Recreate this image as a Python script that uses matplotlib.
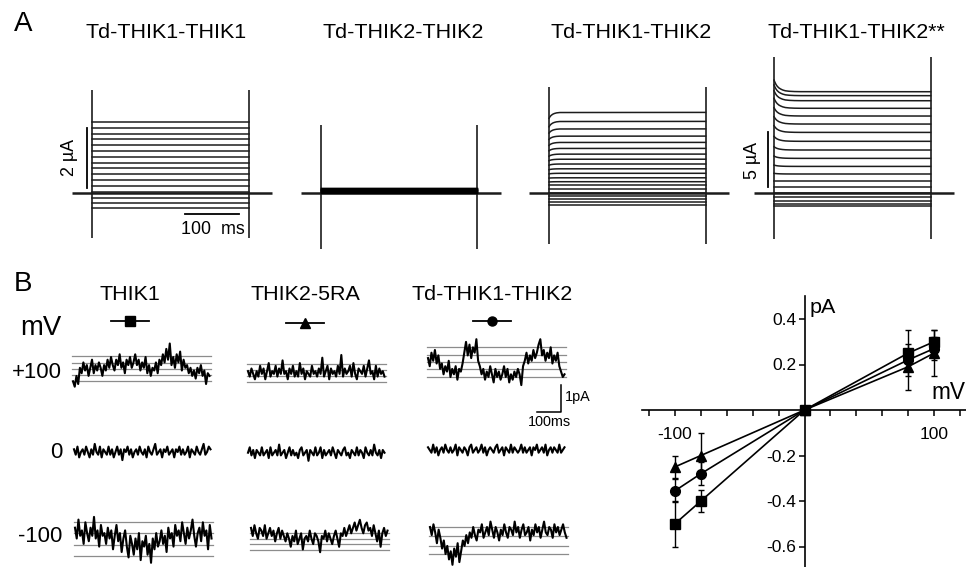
import matplotlib
matplotlib.use('Agg')
import matplotlib.pyplot as plt
import numpy as np
from matplotlib import font_manager
from matplotlib.lines import Line2D

names = {f.name for f in font_manager.fontManager.ttflist}
NARROW = 'Liberation Sans Narrow' if 'Liberation Sans Narrow' in names else 'Liberation Sans'
HAVE_NARROW = NARROW == 'Liberation Sans Narrow'
plt.rcParams['font.family'] = [NARROW, 'DejaVu Sans']
plt.rcParams['axes.unicode_minus'] = False


def fs(size):
    # regular-width fallback needs a smaller size to keep the same text widths
    return size if HAVE_NARROW else size * 0.86


# ---------------- data: panel A (two-electrode voltage clamp families, µA) ----------------
A_titles = ['Td-THIK1-THIK1', 'Td-THIK2-THIK2', 'Td-THIK1-THIK2', 'Td-THIK1-THIK2**']
pulse_on, pulse_off = 0, 290          # ms
hold_span = [-37, 333]                 # ms, holding trace shown
A1_levels = [2.36, 2.17, 1.97, 1.78, 1.59, 1.39, 1.20, 1.00, 0.81, 0.61, 0.42, 0.22,
             0.03, -0.17, -0.33, -0.52]
A2_levels = [0.15, 0.14, 0.13, 0.12, 0.11, 0.10, 0.09, 0.08, 0.07, 0.06, 0.05,
             0.04, 0.03, 0.02, 0.01, -0.01]
A3_steady = [2.67, 2.37, 2.12, 1.88, 1.67, 1.47, 1.28, 1.11, 0.95, 0.79, 0.64, 0.49,
             0.36, 0.24, 0.13, 0.0, -0.11, -0.22, -0.32, -0.43]
A3_initial = [2.47, 2.19, 1.98, 1.77, 1.57, 1.39, 1.21, 1.06, 0.91, 0.76, 0.62, 0.48,
              0.35, 0.24, 0.13, 0.0, -0.11, -0.22, -0.32, -0.43]
A3_time = [0, 2, 4, 7, 10, 14, 20, 290]
A3_frac = [1, 0.7, 0.5, 0.3, 0.18, 0.08, 0.02, 0]
A4_steady = [9.18, 8.82, 8.36, 7.67, 6.97, 6.24, 5.48, 4.67, 3.88, 3.12, 2.39, 1.70,
             1.06, 0.52, 0.0, -0.36, -0.73, -1.0, -1.21]
A4_initial = [10.24, 9.79, 9.27, 8.58, 7.73, 6.91, 6.09, 5.12, 4.18, 3.33, 2.51, 1.76,
              1.06, 0.52, 0.0, -0.36, -0.73, -1.0, -1.21]
A4_time = [0, 2, 4, 6, 9, 12, 16, 21, 28, 38, 50, 290]
A4_frac = [1, 0.78, 0.6, 0.47, 0.33, 0.24, 0.15, 0.08, 0.04, 0.015, 0.005, 0]
A_spike_hi = [3.42, 2.26, 3.51, 12.3]
A_spike_lo = [-1.51, -1.89, -1.72, -4.24]

# ---------------- data: panel B (single-channel traces, values in 0.1 pA) ----------------
B_cols = ['THIK1', 'THIK2-5RA', 'Td-THIK1-THIK2']
B_markers = ['s', '^', 'o']
B_rows = ['+100', '0', '-100']
B_dt = 7.2   # ms per sample

THIK1_p100 = [0, -2, 2, -1, 5, 3, 7, 4, 6, 2, 5, 8, 3, 6, 4, 7, 5, 2, 6, 4,
              8, 5, 9, 6, 4, 8, 6, 10, 5, 7, 3, 8, 6, 9, 5, 7, 10, 6, 8, 4,
              7, 5, 9, 3, 6, 2, 5, 4, 7, 3, 8, 6, 10, 7, 12, 8, 14, 6, 9, 5,
              10, 7, 11, 4, 8, 5, 6, 3, 5, 2, 4, 1, 5, 3, 6, 2, 4, -1, 3, 2]
THIK2_p100 = [4, 2, 5, 3, 1, 4, 2, 6, 3, 5, 1, 4, 7, 2, 4, 3, 6, 2, 5, 3,
              8, 3, 4, 1, 5, 3, 6, 2, 4, 2, 7, 3, 5, 1, 4, 3, 2, 6, 3, 4,
              2, 5, 3, 9, 2, 4, 6, 1, 5, 3, 4, 2, 6, 3, 10, 2, 5, 3, 4, 6,
              2, 7, 3, 1, 5, 4, 3, 6, 2, 5, 8, 3, 4, 1, 6, 2, 5, 3, 4, 2]
TD_p100 = [7, 4, 9, 6, 10, 5, 8, 3, 5, 1, 4, 2, 6, 0, 3, 1, 4, -1, 3, 2,
           5, 9, 13, 8, 12, 7, 11, 9, 14, 6, 4, 1, 3, -1, 2, 0, 4, 1, -2, 3,
           0, 2, -1, 1, 4, 0, 3, -2, 1, -1, 2, 0, 3, 1, -3, 4, 6, 9, 5, 8,
           6, 10, 7, 9, 12, 14, 8, 10, 6, 9, 7, 11, 5, 8, 6, 9, 4, 2, 0, 1]
THIK1_0 = [1, -1, 2, -2, 0, 1, -1, 2, 0, -2, 1, -1, 3, 0, -1, 2, -2, 1, 0, -1,
           2, -1, 1, -2, 0, 2, -1, 1, -3, 1, 0, 2, -1, 1, -2, 0, 1, -1, 2, 0,
           -1, 1, -2, 2, 0, -1, 1, 3, -1, 0, 1, -2, 1, 0, 2, -1, 0, 1, -2, 1,
           0, 2, -1, 1, -1, 0, 2, -2, 1, 0, -1, 2, 0, -1, 1, 3, -1, 0, 2, 1]
THIK2_0 = [0, 2, -1, 1, -2, 1, 0, -1, 2, -1, 0, 1, -2, 2, -1, 0, 1, -1, 3, -1,
           0, 1, -2, 0, 2, -1, 1, -1, 0, -2, 1, 2, -1, 0, 1, -3, 1, 0, -1, 2,
           -1, 0, 2, -2, 1, -1, 0, 1, -1, 2, 0, -2, 1, 0, -1, 1, 2, -1, 0, -2,
           1, 0, -1, 2, -1, 1, 0, -2, 2, 0, -1, 1, -1, 3, 0, -1, 1, -2, 1, 0]
TD_0 = [1, 0, -1, 2, -1, 1, -2, 0, 1, -1, 2, 0, -1, 1, -1, 0, 2, -2, 1, 0,
        -1, 1, 0, -2, 1, 2, -1, 0, 1, -1, 0, 2, -1, 1, -2, 0, 1, 0, -1, 1,
        2, -1, 0, 1, -2, 1, 0, -1, 2, -1, 1, 0, -1, 0, 2, -1, 1, -1, 0, 1,
        -2, 1, 0, 2, -1, 0, 1, -1, 2, -2, 0, 1, -1, 1, 0, -1, 2, -1, 0, 1]
THIK1_m100 = [-2, -6, 1, -5, -3, -8, 0, -4, -7, -2, -5, 2, -6, -3, -9, -1, -5, -4, -8, -2,
              -6, -3, -10, -5, -1, -7, -4, -11, -6, -3, -9, -13, -5, -8, -12, -6, -10, -4, -14, -7,
              -9, -5, -12, -8, -15, -6, -10, -4, -9, -7, -3, -8, -5, -11, -2, -6, -4, -9, -1, -5,
              -3, -7, 0, -4, -8, -2, -6, -3, 1, -5, -9, -4, -2, -7, 0, -5, -3, -10, -1, -6]
THIK2_m100 = [2, -1, 3, 0, -2, 2, 1, -1, 3, -2, 0, 2, -1, 1, -3, 0, 2, -2, 1, -1,
              -3, 0, -2, -5, -1, -3, 1, -4, -2, 0, -6, -2, -1, -3, 1, -2, -4, 0, -1, -3,
              -7, -1, -2, 1, -3, 0, -2, -4, -1, 1, -2, -5, 0, -1, 2, -1, 1, 3, 0, 2,
              4, 1, 3, 5, 2, 0, 3, 4, 1, 2, -1, 3, 0, -3, 1, -5, 0, 2, -1, 1]
TD_m100 = [0, -3, 1, -2, -6, -1, -4, -8, -5, -10, -7, -12, -9, -14, -8, -11, -6, -13, -9, -5,
           -7, -3, -6, -2, -4, 0, -3, -5, -1, -2, 1, -4, -2, 0, -3, 2, -1, -4, 0, -2,
           -5, -1, -3, 1, -2, -4, 0, -1, -3, 2, -2, 0, -4, -1, 1, -3, -2, 0, -5, -1,
           -3, 1, -2, 0, -4, -1, 2, -2, -3, 0, -1, -4, 1, -2, 0, -3, -1, 1, -2, -4]
B_traces = [[THIK1_p100, THIK2_p100, TD_p100],
            [THIK1_0, THIK2_0, TD_0],
            [THIK1_m100, THIK2_m100, TD_m100]]
# open-level guide lines (pA)
B_levels = [[[0, 0.23, 0.44, 0.69, 0.95], [0, 0.22, 0.44, 0.67], [0, 0.28, 0.56, 0.83, 1.1]],
            [[], [], []],
            [[0, -0.41, -0.84, -1.25], [0, -0.2, -0.4, -0.6], [0, -0.35, -0.7, -1.0]]]

# ---------------- data: I-V plot ----------------
iv_v = [-100, -80, 0, 80, 100]
iv_thik1 = [-0.50, -0.40, 0.0, 0.25, 0.30]
iv_thik1_err = [0.10, 0.05, 0.0, 0.10, 0.05]
iv_thik2 = [-0.25, -0.20, 0.0, 0.19, 0.25]
iv_thik2_err = [0.05, 0.10, 0.0, 0.10, 0.10]
iv_td = [-0.355, -0.28, 0.0, 0.22, 0.27]
iv_td_err = [0.05, 0.05, 0.0, 0.05, 0.05]

# ---------------- layout helpers ----------------
W, H = 966, 567
fig = plt.figure(figsize=(W / 100, H / 100), dpi=100)


def px_axes(left, top, right, bottom, x0, xs, y0, ys):
    ax = fig.add_axes([left / W, 1 - bottom / H, (right - left) / W, (bottom - top) / H])
    ax.set_xlim((left - x0) / xs, (right - x0) / xs)
    ax.set_ylim((y0 - bottom) / ys, (y0 - top) / ys)
    ax.axis('off')
    return ax


def ftext(x, y, s, **kw):
    fig.text(x / W, 1 - y / H, s, **kw)


TR = '#1c1c1c'

# ---------------- panel A ----------------
ftext(23, 24, 'A', fontsize=20, family='Liberation Sans', ha='center', va='center')
A_title_x = [166, 403, 631, 856]
for x, t in zip(A_title_x, A_titles):
    ftext(x, 33, t, fontsize=fs(18), ha='center', va='center')

A_geom = [  # (left, right, x0 px, y0 px, px per µA)
    (50, 290, 92, 192.7, 30),
    (292, 510, 320.7, 192.5, 30),
    (520, 740, 549, 192.5, 30),
    (745, 962, 774, 192.7, 11),
]
axA = []
for i, (l, r, x0, y0, ys) in enumerate(A_geom):
    ax = px_axes(l, 45, r, 258, x0, 0.54, y0, ys)
    axA.append(ax)
    ax.plot(hold_span, [0, 0], color=TR, lw=1.8, solid_capstyle='butt')
    ax.vlines([pulse_on, pulse_off], A_spike_lo[i], A_spike_hi[i], color=TR, lw=1.2)

for lv in A1_levels:
    axA[0].plot([pulse_on, pulse_off], [lv, lv], color=TR, lw=1.1)
for lv in A2_levels:
    axA[1].plot([pulse_on, pulse_off], [lv, lv], color='black', lw=1.0)
for s0, s1 in zip(A3_initial, A3_steady):
    vals = [s1 + (s0 - s1) * f for f in A3_frac]
    axA[2].plot(A3_time, vals, color=TR, lw=1.1)
for s0, s1 in zip(A4_initial, A4_steady):
    vals = [s1 + (s0 - s1) * f for f in A4_frac]
    axA[3].plot(A4_time, vals, color=TR, lw=1.1)

# scale bars A
axA[0].plot([-9.3, -9.3], [0.16, 2.16], color='black', lw=1.3, clip_on=False)
axA[0].text(-41, 1.16, '2 µA', rotation=90, fontsize=fs(15), ha='center', va='center')
axA[0].plot([172, 272], [-0.71, -0.71], color='black', lw=1.3)
axA[0].text(224, -1.24, '100  ms', fontsize=fs(15), ha='center', va='center')
axA[3].plot([-11, -11], [0.5, 5.5], color='black', lw=1.3)
axA[3].text(-39, 2.97, '5 µA', rotation=90, fontsize=fs(15), ha='center', va='center')

# ---------------- panel B ----------------
ftext(23, 284, 'B', fontsize=20, family='Liberation Sans', ha='center', va='center')
B_title_x = [130, 305, 492]
B_key_y = [321, 323, 321]
for x, ky, t, m in zip(B_title_x, B_key_y, B_cols, B_markers):
    ftext(x, 295, t, fontsize=fs(18), ha='center', va='center')
    fig.add_artist(Line2D([(x - 19) / W, (x + 19) / W], [1 - ky / H] * 2,
                          transform=fig.transFigure, color='black', lw=1.3))
    fig.add_artist(Line2D([x / W], [1 - ky / H], transform=fig.transFigure,
                          marker=m, ms=7.5 if m == '^' else 6.5, color='black', lw=0))

ftext(41, 328, 'mV', fontsize=fs(23), ha='center', va='center')
B_row_y = [372, 452, 536]
for y, lab in zip(B_row_y, B_rows):
    ftext(62, y, lab, fontsize=fs(18.5), ha='right', va='center')

B_pos = [[(73, 381.3), (248, 382), (428, 377)],
         [(74, 452), (248, 452.7), (428, 450)],
         [(75, 522.3), (251, 533.3), (430, 527)]]
axB = {}
for r in range(3):
    for c in range(3):
        x0, y0 = B_pos[r][c]
        ax = px_axes(x0 - 6, y0 - 50, x0 + 150, y0 + 50, x0, 0.24, y0, 27)
        axB[(r, c)] = ax
        vals = np.array(B_traces[r][c]) / 10.0
        t = np.arange(len(vals)) * B_dt
        for lv in B_levels[r][c]:
            ax.plot([-5, t[-1] + 6], [lv, lv], color='#8c8c8c', lw=0.9)
        ax.plot(t, vals, color='black', lw=1.5)

# scale bar B (1 pA, 100 ms)
sb = axB[(0, 2)]
sb.plot([454, 554, 554], [-1.3, -1.3, -0.3], color='black', lw=1.1, clip_on=False)
sb.text(571, -0.74, '1pA', fontsize=fs(12), ha='left', va='center', clip_on=False)
sb.text(504, -1.67, '100ms', fontsize=fs(12), ha='center', va='center', clip_on=False)

# ---------------- I-V plot ----------------
ax = px_axes(642, 296, 966, 567, 804.5, 1.295, 410, 227.5)
ax.axis('on')
ax.patch.set_visible(False)
for s in ['top', 'right']:
    ax.spines[s].set_visible(False)
ax.spines['left'].set_position(('data', 0))
ax.spines['bottom'].set_position(('data', 0))
for s in ['left', 'bottom']:
    ax.spines[s].set_linewidth(1.2)
ax.set_xticks([-100, 100])
ax.set_xticklabels(['-100', '100'])
ax.set_xticks(np.arange(-120, 121, 20), minor=True)
ax.set_yticks([-0.6, -0.4, -0.2, 0.2, 0.4])
ax.set_yticklabels(['-0.6', '-0.4', '-0.2', '0.2', '0.4'])
ax.tick_params(axis='x', which='both', direction='out', length=4, width=1.1, pad=8,
               labelsize=fs(14.5))
ax.tick_params(axis='y', which='both', direction='out', length=4, width=1.1, pad=2,
               labelsize=fs(14.5))

for vals, errs, m, ms in [(iv_thik1, iv_thik1_err, 's', 6.5),
                          (iv_td, iv_td_err, 'o', 7),
                          (iv_thik2, iv_thik2_err, '^', 7.5)]:
    ax.errorbar(iv_v, vals, yerr=errs, color='black', lw=1.2, marker=m, ms=ms,
                capsize=2, elinewidth=1.0, capthick=1.0, clip_on=False)

ax.text(4.2, 0.45, 'pA', fontsize=fs(18), ha='left', va='center')
ax.text(124, 0.075, 'mV', fontsize=fs(19), ha='right', va='center')

fig.savefig('out.png', dpi=100)
